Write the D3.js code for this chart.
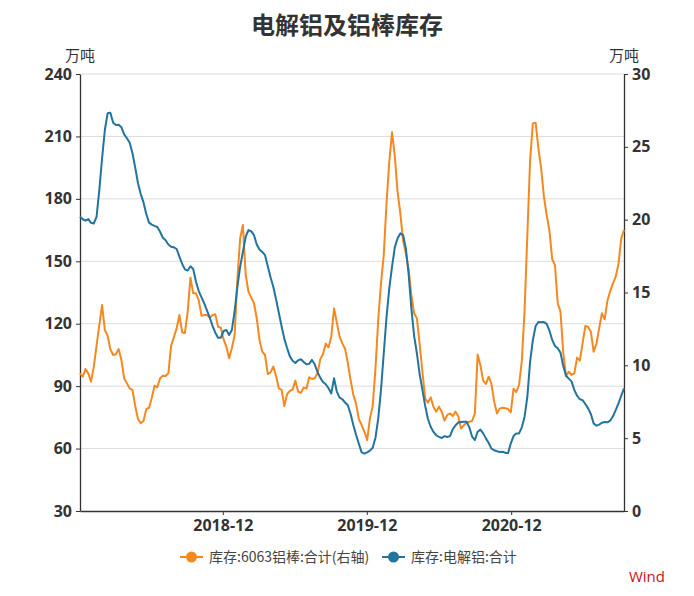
<!DOCTYPE html>
<html>
<head>
<meta charset="utf-8">
<script src="https://cdn.jsdelivr.net/npm/d3@7"></script>
<style>
  body { margin: 0; background: #fff; }
  text { font-family: "Open Sans", "Noto Sans CJK SC", sans-serif; }
</style>
</head>
<body>
<svg id="chart"></svg>
<script>
// weekly observations, first week below
const startDate = '2017-12-04';

// 库存:电解铝:合计 (万吨, left axis)
const aluminum = [
  171.4, 170.2, 169.5, 170.3, 168.5, 168.2, 171.4, 184.3, 199.5, 213.1,
  221.1, 221.4, 216.6, 215.5, 215.6, 214.4, 211, 209.1, 207, 201.9,
  195, 187.5, 182.3, 178.3, 172.7, 168.6, 167.6, 167, 166.5, 164.2,
  161.3, 160.1, 158.1, 157, 156.7, 155.9, 152.2, 148.7, 146.1, 145.6,
  147.6, 146.3, 140.2, 135.7, 132.7, 129.8, 126.3, 122.9, 118.9, 115.7,
  113.3, 113.3, 116.5, 117, 114.6, 117, 126.1, 137.8, 147.4, 154.6,
  161.8, 165, 164.5, 162.6, 158.1, 155.7, 154.5, 153, 147.6, 142.3,
  137.8, 131.7, 125.3, 118.8, 112.7, 108.3, 104.3, 102.2, 101.1, 102.4,
  102.9, 101.6, 100.5, 100.7, 102.6, 100.5, 96.8, 94.1, 92, 90.9,
  89, 86.5, 93.8, 87.4, 84.5, 83.7, 82.1, 80.8, 76.6, 71.2,
  66.5, 62.2, 58.2, 57.6, 58.2, 59, 60.4, 65.2, 74.5, 88.2,
  105.8, 123.2, 137, 147.4, 156.7, 161.1, 163.4, 162.6, 156.2, 143.9,
  127.4, 114.1, 105.8, 95.8, 88.2, 80.5, 74.2, 70.5, 68, 66.4,
  65.6, 65.1, 66.0, 65.6, 66.0, 69.3, 71.2, 72.5, 72.8, 72.9,
  72.9, 70.2, 65.7, 64.1, 68.1, 69.1, 67.3, 64.9, 62.7, 60,
  59.2, 58.7, 58.4, 58.5, 58, 57.7, 62.5, 66, 67.3, 67.3,
  70.2, 75.3, 84.9, 101.8, 112.2, 118.9, 120.8, 120.7, 120.8, 119.9,
  116.7, 112.2, 109.3, 108.2, 106.1, 99.7, 95.0, 93.6, 92.3, 88.2,
  85.4, 83.7, 83.3, 81.4, 79.3, 76.6, 72.1, 71, 71.5, 72.4,
  72.8, 72.6, 73.4, 75.5, 78.5, 81.7, 85.4, 88.9
];

// 库存:6063铝棒:合计 (万吨, right axis)
const rods = [
  9.45, 9.22, 9.75, 9.45, 8.88, 9.91, 11.35, 12.77, 14.14, 12.42,
  12.04, 11.1, 10.71, 10.76, 11.12, 10.36, 9.11, 8.76, 8.42, 8.31,
  7.21, 6.32, 6.02, 6.18, 7.0, 7.09, 7.78, 8.6, 8.49, 9.11,
  9.29, 9.27, 9.45, 11.35, 11.94, 12.54, 13.45, 12.26, 12.22, 13.68,
  16.02, 14.94, 14.94, 14.48, 13.41, 13.45, 13.45, 13.27, 13.45, 13.5,
  12.65, 12.58, 11.78, 11.28, 10.48, 11.17, 12.08, 15.97, 18.72, 19.63,
  16.2, 15.06, 14.65, 14.26, 13.23, 11.74, 10.94, 10.71, 9.4, 9.52,
  9.91, 9.27, 8.42, 8.31, 7.21, 8.03, 8.24, 8.35, 8.95, 8.19,
  8.12, 8.47, 8.4, 9.18, 9.06, 9.11, 9.45, 10.41, 10.78, 11.49,
  11.24, 11.97, 13.91, 12.95, 11.97, 11.51, 11.14, 10.14, 8.99, 7.96,
  7.35, 6.29, 5.9, 5.44, 4.87, 6.36, 7.21, 9.79, 13.11, 15.63,
  17.57, 21.12, 23.98, 26.0, 24.37, 21.92, 20.43, 18.56, 17.69, 16.61,
  14.83, 13.57, 13.22, 11.46, 9.56, 7.73, 7.44, 7.8, 7.16, 6.82,
  7.16, 6.82, 6.2, 6.59, 6.7, 6.52, 6.82, 6.48, 5.67, 5.88,
  6.06, 6.13, 6.18, 6.7, 10.75, 10.0, 8.95, 8.72, 9.22, 8.72,
  7.5, 6.7, 7.03, 7.09, 7.05, 7.0, 6.77, 8.4, 8.17, 8.65,
  10.32, 13.8, 18.95, 24.1, 26.61, 26.66, 24.9, 23.52, 21.58, 20.32,
  19.24, 17.28, 16.89, 14.26, 13.69, 10.87, 9.27, 9.56, 9.34, 9.45,
  10.53, 10.32, 11.51, 12.7, 12.65, 12.31, 10.94, 11.46, 12.54, 13.57,
  13.16, 14.44, 15.1, 15.63, 16.09, 16.96, 18.72, 19.29
];

const leftTicks = [30, 60, 90, 120, 150, 180, 210, 240];
const rightTicks = [0, 5, 10, 15, 20, 25, 30];
const xTicks = ['2018-12-01', '2019-12-01', '2020-12-01'];
const seriesNames = ['库存:6063铝棒:合计(右轴)', '库存:电解铝:合计'];
const colors = ['#f5891f', '#21749f'];

const width = 694, height = 596;
const margin = { top: 74, right: 70, bottom: 85, left: 80 };

const parse = d3.timeParse('%Y-%m-%d');
const t0 = parse(startDate);
const dates = aluminum.map((_, i) => d3.timeDay.offset(t0, i * 7));

const svg = d3.select('#chart')
  .attr('width', width)
  .attr('height', height);

const x = d3.scaleTime()
  .domain([dates[0], dates[dates.length - 1]])
  .range([margin.left, width - margin.right]);

const yLeft = d3.scaleLinear()
  .domain([30, 240])
  .range([height - margin.bottom, margin.top]);

const yRight = d3.scaleLinear()
  .domain([0, 30])
  .range([height - margin.bottom, margin.top]);

// title
svg.append('text')
  .attr('x', width / 2)
  .attr('y', 34)
  .attr('text-anchor', 'middle')
  .attr('font-size', 24)
  .attr('font-weight', 'bold')
  .attr('fill', '#333')
  .style('font-family', '"Noto Sans CJK SC", sans-serif')
  .text('电解铝及铝棒库存');

// unit labels
[margin.left, width - margin.right].forEach(px => {
  svg.append('text')
    .attr('x', px)
    .attr('y', 61)
    .attr('text-anchor', 'middle')
    .attr('font-size', 15)
    .attr('fill', '#333')
    .style('font-family', '"Noto Sans CJK SC", sans-serif')
    .text('万吨');
});

// grid
svg.append('g')
  .selectAll('line')
  .data(leftTicks.slice(1))
  .join('line')
  .attr('x1', margin.left)
  .attr('x2', width - margin.right)
  .attr('y1', d => yLeft(d))
  .attr('y2', d => yLeft(d))
  .attr('stroke', '#dcdcdc')
  .attr('stroke-width', 1);

function styleAxis(g) {
  g.selectAll('.domain').attr('stroke', '#333').attr('stroke-width', 1.3);
  g.selectAll('.tick line').attr('stroke', '#333');
  g.selectAll('.tick text')
    .attr('fill', '#333')
    .attr('font-size', 16)
    .attr('font-weight', 'bold')
    .style('font-family', '"Open Sans", sans-serif');
}

svg.append('g')
  .attr('transform', `translate(${margin.left},0)`)
  .call(d3.axisLeft(yLeft).tickValues(leftTicks).tickSize(4).tickSizeOuter(0).tickPadding(4))
  .call(styleAxis);

svg.append('g')
  .attr('transform', `translate(${width - margin.right},0)`)
  .call(d3.axisRight(yRight).tickValues(rightTicks).tickSize(4).tickSizeOuter(0).tickPadding(4))
  .call(styleAxis);

svg.append('g')
  .attr('transform', `translate(0,${height - margin.bottom})`)
  .call(d3.axisBottom(x).tickValues(xTicks.map(parse)).tickFormat(d3.timeFormat('%Y-%m'))
    .tickSize(4).tickSizeOuter(0).tickPadding(5))
  .call(styleAxis);

// lines
const lineRight = d3.line()
  .x((d, i) => x(dates[i]))
  .y(d => yRight(d));

const lineLeft = d3.line()
  .x((d, i) => x(dates[i]))
  .y(d => yLeft(d));

svg.append('path')
  .datum(rods)
  .attr('d', lineRight)
  .attr('fill', 'none')
  .attr('stroke', colors[0])
  .attr('stroke-width', 2)
  .attr('stroke-linejoin', 'round');

svg.append('path')
  .datum(aluminum)
  .attr('d', lineLeft)
  .attr('fill', 'none')
  .attr('stroke', colors[1])
  .attr('stroke-width', 2)
  .attr('stroke-linejoin', 'round');

// legend
const legendX = [180, 382];
const legend = svg.append('g')
  .selectAll('g')
  .data(seriesNames)
  .join('g')
  .attr('transform', (d, i) => `translate(${legendX[i]},557)`);

legend.append('line')
  .attr('x1', 0).attr('x2', 23)
  .attr('stroke', (d, i) => colors[i])
  .attr('stroke-width', 2);

legend.append('circle')
  .attr('cx', 11.5).attr('r', 5.5)
  .attr('fill', (d, i) => colors[i]);

legend.append('text')
  .attr('x', 29)
  .attr('dy', '0.35em')
  .attr('font-size', 14)
  .attr('fill', '#444')
  .style('font-family', '"Noto Sans CJK SC", sans-serif')
  .text(d => d);

svg.append('text')
  .attr('x', 665)
  .attr('y', 582)
  .attr('text-anchor', 'end')
  .attr('font-size', 15)
  .attr('fill', '#d01010')
  .text('Wind');
</script>
</body>
</html>
